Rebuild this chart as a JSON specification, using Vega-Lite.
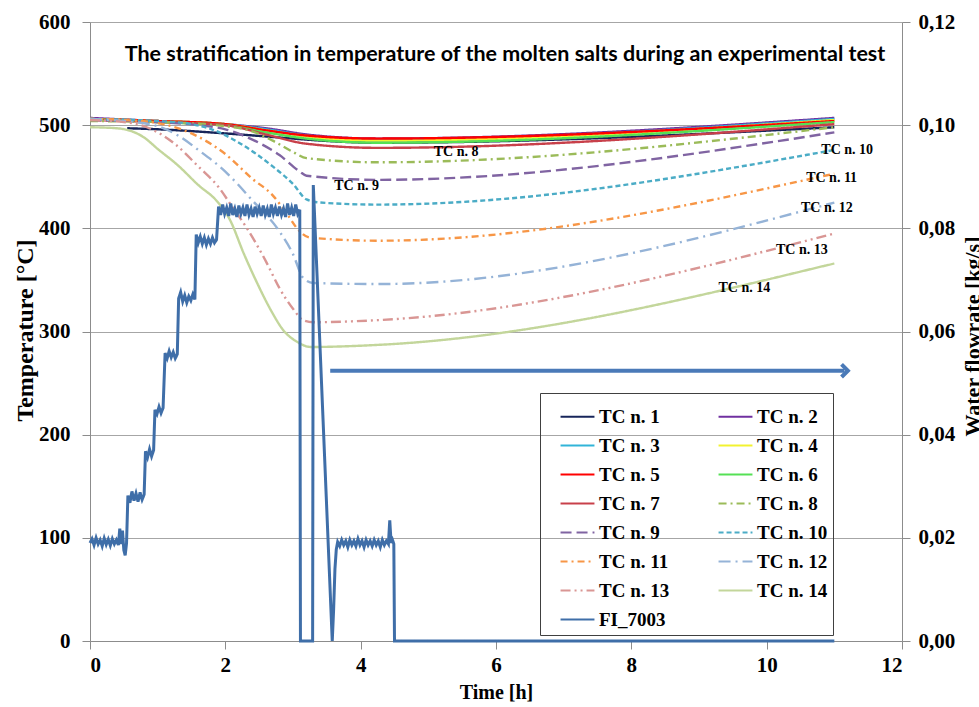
{
  "$schema": "https://vega.github.io/schema/vega-lite/v6.json",
  "width": 812,
  "height": 619,
  "autosize": "none",
  "padding": {"left": 90, "top": 22, "right": 77, "bottom": 66},
  "background": "white",
  "title": {"text": "The stratification in temperature of the molten salts during an experimental test", "font": "Lato", "fontSize": 21.5, "fontWeight": "bold", "color": "black", "anchor": "middle", "frame": "group", "offset": -54, "dx": 9},
  "datasets": {
    "tc": [
      {"s":"TC n. 1","t":0.55,"v":497},{"s":"TC n. 1","t":1.0,"v":496},{"s":"TC n. 1","t":2.0,"v":492},{"s":"TC n. 1","t":3.0,"v":487},{"s":"TC n. 1","t":3.2,"v":486},{"s":"TC n. 1","t":4.25,"v":483},{"s":"TC n. 1","t":11,"v":498},
      {"s":"TC n. 2","t":0,"v":507},{"s":"TC n. 2","t":1.0,"v":504},{"s":"TC n. 2","t":2.0,"v":501},{"s":"TC n. 2","t":2.6,"v":497},{"s":"TC n. 2","t":3.2,"v":491},{"s":"TC n. 2","t":4.25,"v":487},{"s":"TC n. 2","t":11,"v":507},
      {"s":"TC n. 3","t":0,"v":506},{"s":"TC n. 3","t":1.0,"v":504},{"s":"TC n. 3","t":2.0,"v":501},{"s":"TC n. 3","t":2.6,"v":496},{"s":"TC n. 3","t":3.2,"v":490},{"s":"TC n. 3","t":4.25,"v":486},{"s":"TC n. 3","t":11,"v":506},
      {"s":"TC n. 4","t":0,"v":506},{"s":"TC n. 4","t":1.0,"v":504},{"s":"TC n. 4","t":2.0,"v":501},{"s":"TC n. 4","t":2.6,"v":495},{"s":"TC n. 4","t":3.2,"v":489},{"s":"TC n. 4","t":4.25,"v":485},{"s":"TC n. 4","t":11,"v":505},
      {"s":"TC n. 5","t":0,"v":506},{"s":"TC n. 5","t":1.0,"v":504},{"s":"TC n. 5","t":2.0,"v":501},{"s":"TC n. 5","t":2.6,"v":495},{"s":"TC n. 5","t":3.2,"v":490},{"s":"TC n. 5","t":4.25,"v":487},{"s":"TC n. 5","t":11,"v":504},
      {"s":"TC n. 6","t":0,"v":506},{"s":"TC n. 6","t":1.0,"v":503},{"s":"TC n. 6","t":2.0,"v":500},{"s":"TC n. 6","t":2.6,"v":493},{"s":"TC n. 6","t":3.2,"v":487},{"s":"TC n. 6","t":4.25,"v":483},{"s":"TC n. 6","t":11,"v":503},
      {"s":"TC n. 7","t":0,"v":505},{"s":"TC n. 7","t":1.0,"v":503},{"s":"TC n. 7","t":2.0,"v":500},{"s":"TC n. 7","t":2.6,"v":491},{"s":"TC n. 7","t":3.2,"v":482},{"s":"TC n. 7","t":4.25,"v":478},{"s":"TC n. 7","t":11,"v":501},
      {"s":"TC n. 8","t":0,"v":504},{"s":"TC n. 8","t":1.0,"v":503},{"s":"TC n. 8","t":2.0,"v":499},{"s":"TC n. 8","t":2.4,"v":494},{"s":"TC n. 8","t":2.7,"v":485},{"s":"TC n. 8","t":3.0,"v":474},{"s":"TC n. 8","t":3.2,"v":468},{"s":"TC n. 8","t":4.25,"v":464},{"s":"TC n. 8","t":11,"v":498},
      {"s":"TC n. 9","t":0,"v":505},{"s":"TC n. 9","t":1.0,"v":503},{"s":"TC n. 9","t":1.6,"v":500},{"s":"TC n. 9","t":2.0,"v":496},{"s":"TC n. 9","t":2.4,"v":486},{"s":"TC n. 9","t":2.8,"v":471},{"s":"TC n. 9","t":3.1,"v":455},{"s":"TC n. 9","t":3.2,"v":451},{"s":"TC n. 9","t":4.25,"v":447},{"s":"TC n. 9","t":11,"v":493},
      {"s":"TC n. 10","t":0,"v":506},{"s":"TC n. 10","t":1.0,"v":504},{"s":"TC n. 10","t":1.5,"v":501},{"s":"TC n. 10","t":1.8,"v":496},{"s":"TC n. 10","t":2.2,"v":483},{"s":"TC n. 10","t":2.7,"v":460},{"s":"TC n. 10","t":3.0,"v":443},{"s":"TC n. 10","t":3.2,"v":428},{"s":"TC n. 10","t":3.4,"v":425},{"s":"TC n. 10","t":4.25,"v":423},{"s":"TC n. 10","t":11,"v":476},
      {"s":"TC n. 11","t":0,"v":506},{"s":"TC n. 11","t":0.5,"v":505},{"s":"TC n. 11","t":1.0,"v":502},{"s":"TC n. 11","t":1.5,"v":492},{"s":"TC n. 11","t":2.0,"v":472},{"s":"TC n. 11","t":2.4,"v":448},{"s":"TC n. 11","t":2.7,"v":432},{"s":"TC n. 11","t":2.9,"v":415},{"s":"TC n. 11","t":3.1,"v":397},{"s":"TC n. 11","t":3.25,"v":391},{"s":"TC n. 11","t":4.25,"v":388},{"s":"TC n. 11","t":11,"v":453},
      {"s":"TC n. 12","t":0,"v":506},{"s":"TC n. 12","t":0.5,"v":504},{"s":"TC n. 12","t":1.0,"v":499},{"s":"TC n. 12","t":1.3,"v":490},{"s":"TC n. 12","t":1.6,"v":476},{"s":"TC n. 12","t":2.0,"v":455},{"s":"TC n. 12","t":2.4,"v":427},{"s":"TC n. 12","t":2.8,"v":397},{"s":"TC n. 12","t":3.0,"v":375},{"s":"TC n. 12","t":3.15,"v":352},{"s":"TC n. 12","t":3.3,"v":347},{"s":"TC n. 12","t":4.25,"v":346},{"s":"TC n. 12","t":11,"v":425},
      {"s":"TC n. 13","t":0,"v":505},{"s":"TC n. 13","t":0.5,"v":503},{"s":"TC n. 13","t":0.75,"v":500},{"s":"TC n. 13","t":1.0,"v":493},{"s":"TC n. 13","t":1.25,"v":482},{"s":"TC n. 13","t":1.6,"v":460},{"s":"TC n. 13","t":1.9,"v":440},{"s":"TC n. 13","t":2.1,"v":421},{"s":"TC n. 13","t":2.3,"v":402},{"s":"TC n. 13","t":2.6,"v":368},{"s":"TC n. 13","t":2.8,"v":342},{"s":"TC n. 13","t":3.0,"v":322},{"s":"TC n. 13","t":3.15,"v":311},{"s":"TC n. 13","t":3.3,"v":309},{"s":"TC n. 13","t":4.25,"v":311},{"s":"TC n. 13","t":11,"v":395},
      {"s":"TC n. 14","t":0,"v":498},{"s":"TC n. 14","t":0.4,"v":497},{"s":"TC n. 14","t":0.8,"v":488},{"s":"TC n. 14","t":1.0,"v":477},{"s":"TC n. 14","t":1.3,"v":461},{"s":"TC n. 14","t":1.6,"v":442},{"s":"TC n. 14","t":1.88,"v":426},{"s":"TC n. 14","t":2.07,"v":408},{"s":"TC n. 14","t":2.27,"v":376},{"s":"TC n. 14","t":2.47,"v":347},{"s":"TC n. 14","t":2.67,"v":321},{"s":"TC n. 14","t":2.86,"v":301},{"s":"TC n. 14","t":3.06,"v":290},{"s":"TC n. 14","t":3.26,"v":285},{"s":"TC n. 14","t":4.25,"v":287},{"s":"TC n. 14","t":11,"v":366}
    ],
    "fi": [
      {"s":"FI_7003","t":0.00,"f":0.0190},{"s":"FI_7003","t":0.03,"f":0.0198},{"s":"FI_7003","t":0.06,"f":0.0186},{"s":"FI_7003","t":0.09,"f":0.0200},{"s":"FI_7003","t":0.12,"f":0.0188},{"s":"FI_7003","t":0.15,"f":0.0196},{"s":"FI_7003","t":0.18,"f":0.0184},{"s":"FI_7003","t":0.21,"f":0.0199},{"s":"FI_7003","t":0.24,"f":0.0187},{"s":"FI_7003","t":0.27,"f":0.0197},{"s":"FI_7003","t":0.30,"f":0.0185},{"s":"FI_7003","t":0.33,"f":0.0198},{"s":"FI_7003","t":0.36,"f":0.0188},{"s":"FI_7003","t":0.39,"f":0.0196},{"s":"FI_7003","t":0.42,"f":0.0186},{"s":"FI_7003","t":0.44,"f":0.0218},{"s":"FI_7003","t":0.46,"f":0.0188},{"s":"FI_7003","t":0.48,"f":0.0214},{"s":"FI_7003","t":0.50,"f":0.0176},{"s":"FI_7003","t":0.52,"f":0.0166},{"s":"FI_7003","t":0.54,"f":0.0190},
      {"s":"FI_7003","t":0.56,"f":0.0282},{"s":"FI_7003","t":0.59,"f":0.0268},{"s":"FI_7003","t":0.62,"f":0.0290},{"s":"FI_7003","t":0.65,"f":0.0272},{"s":"FI_7003","t":0.68,"f":0.0286},{"s":"FI_7003","t":0.71,"f":0.0270},{"s":"FI_7003","t":0.74,"f":0.0288},{"s":"FI_7003","t":0.77,"f":0.0274},{"s":"FI_7003","t":0.80,"f":0.0284},
      {"s":"FI_7003","t":0.82,"f":0.0368},{"s":"FI_7003","t":0.85,"f":0.0356},{"s":"FI_7003","t":0.88,"f":0.0372},{"s":"FI_7003","t":0.91,"f":0.0358},{"s":"FI_7003","t":0.94,"f":0.0370},
      {"s":"FI_7003","t":0.96,"f":0.0448},{"s":"FI_7003","t":0.99,"f":0.0440},{"s":"FI_7003","t":1.02,"f":0.0454},{"s":"FI_7003","t":1.05,"f":0.0442},{"s":"FI_7003","t":1.08,"f":0.0452},
      {"s":"FI_7003","t":1.11,"f":0.0558},{"s":"FI_7003","t":1.14,"f":0.0548},{"s":"FI_7003","t":1.17,"f":0.0562},{"s":"FI_7003","t":1.20,"f":0.0550},{"s":"FI_7003","t":1.23,"f":0.0560},{"s":"FI_7003","t":1.26,"f":0.0548},{"s":"FI_7003","t":1.29,"f":0.0556},
      {"s":"FI_7003","t":1.31,"f":0.0664},{"s":"FI_7003","t":1.34,"f":0.0676},{"s":"FI_7003","t":1.37,"f":0.0658},{"s":"FI_7003","t":1.40,"f":0.0670},{"s":"FI_7003","t":1.43,"f":0.0656},{"s":"FI_7003","t":1.46,"f":0.0668},{"s":"FI_7003","t":1.49,"f":0.0660},{"s":"FI_7003","t":1.52,"f":0.0672},{"s":"FI_7003","t":1.55,"f":0.0662},
      {"s":"FI_7003","t":1.57,"f":0.0788},{"s":"FI_7003","t":1.60,"f":0.0772},{"s":"FI_7003","t":1.63,"f":0.0784},{"s":"FI_7003","t":1.66,"f":0.0770},{"s":"FI_7003","t":1.69,"f":0.0782},{"s":"FI_7003","t":1.72,"f":0.0768},{"s":"FI_7003","t":1.75,"f":0.0780},{"s":"FI_7003","t":1.78,"f":0.0770},{"s":"FI_7003","t":1.81,"f":0.0782},{"s":"FI_7003","t":1.84,"f":0.0772},{"s":"FI_7003","t":1.87,"f":0.0778},
      {"s":"FI_7003","t":1.90,"f":0.0842},{"s":"FI_7003","t":1.93,"f":0.0826},{"s":"FI_7003","t":1.96,"f":0.0846},{"s":"FI_7003","t":1.99,"f":0.0828},{"s":"FI_7003","t":2.02,"f":0.0840},{"s":"FI_7003","t":2.05,"f":0.0824},{"s":"FI_7003","t":2.08,"f":0.0848},{"s":"FI_7003","t":2.11,"f":0.0826},{"s":"FI_7003","t":2.14,"f":0.0838},{"s":"FI_7003","t":2.17,"f":0.0822},{"s":"FI_7003","t":2.20,"f":0.0844},{"s":"FI_7003","t":2.23,"f":0.0828},{"s":"FI_7003","t":2.26,"f":0.0840},{"s":"FI_7003","t":2.29,"f":0.0824},{"s":"FI_7003","t":2.32,"f":0.0846},{"s":"FI_7003","t":2.35,"f":0.0826},{"s":"FI_7003","t":2.38,"f":0.0838},{"s":"FI_7003","t":2.41,"f":0.0822},{"s":"FI_7003","t":2.44,"f":0.0842},{"s":"FI_7003","t":2.47,"f":0.0828},{"s":"FI_7003","t":2.50,"f":0.0840},{"s":"FI_7003","t":2.53,"f":0.0824},{"s":"FI_7003","t":2.56,"f":0.0844},{"s":"FI_7003","t":2.59,"f":0.0826},{"s":"FI_7003","t":2.62,"f":0.0838},{"s":"FI_7003","t":2.65,"f":0.0822},{"s":"FI_7003","t":2.68,"f":0.0846},{"s":"FI_7003","t":2.71,"f":0.0828},{"s":"FI_7003","t":2.74,"f":0.0840},{"s":"FI_7003","t":2.77,"f":0.0824},{"s":"FI_7003","t":2.80,"f":0.0842},{"s":"FI_7003","t":2.83,"f":0.0826},{"s":"FI_7003","t":2.86,"f":0.0838},{"s":"FI_7003","t":2.89,"f":0.0822},{"s":"FI_7003","t":2.92,"f":0.0848},{"s":"FI_7003","t":2.95,"f":0.0826},{"s":"FI_7003","t":2.98,"f":0.0840},{"s":"FI_7003","t":3.01,"f":0.0824},{"s":"FI_7003","t":3.04,"f":0.0846},{"s":"FI_7003","t":3.07,"f":0.0828},{"s":"FI_7003","t":3.10,"f":0.0836},
      {"s":"FI_7003","t":3.11,"f":0.0},{"s":"FI_7003","t":3.29,"f":0.0},{"s":"FI_7003","t":3.30,"f":0.0884},{"s":"FI_7003","t":3.58,"f":0.0},{"s":"FI_7003","t":3.60,"f":0.0060},{"s":"FI_7003","t":3.62,"f":0.0140},{"s":"FI_7003","t":3.64,"f":0.0178},
      {"s":"FI_7003","t":3.66,"f":0.0192},{"s":"FI_7003","t":3.69,"f":0.0184},{"s":"FI_7003","t":3.72,"f":0.0196},{"s":"FI_7003","t":3.75,"f":0.0186},{"s":"FI_7003","t":3.78,"f":0.0194},{"s":"FI_7003","t":3.81,"f":0.0182},{"s":"FI_7003","t":3.84,"f":0.0196},{"s":"FI_7003","t":3.87,"f":0.0186},{"s":"FI_7003","t":3.90,"f":0.0194},{"s":"FI_7003","t":3.93,"f":0.0184},{"s":"FI_7003","t":3.96,"f":0.0198},{"s":"FI_7003","t":3.99,"f":0.0186},{"s":"FI_7003","t":4.02,"f":0.0194},{"s":"FI_7003","t":4.05,"f":0.0182},{"s":"FI_7003","t":4.08,"f":0.0196},{"s":"FI_7003","t":4.11,"f":0.0186},{"s":"FI_7003","t":4.14,"f":0.0194},{"s":"FI_7003","t":4.17,"f":0.0184},{"s":"FI_7003","t":4.20,"f":0.0196},{"s":"FI_7003","t":4.23,"f":0.0186},{"s":"FI_7003","t":4.26,"f":0.0194},{"s":"FI_7003","t":4.29,"f":0.0182},{"s":"FI_7003","t":4.32,"f":0.0196},{"s":"FI_7003","t":4.35,"f":0.0186},{"s":"FI_7003","t":4.38,"f":0.0194},{"s":"FI_7003","t":4.41,"f":0.0188},{"s":"FI_7003","t":4.43,"f":0.0234},{"s":"FI_7003","t":4.45,"f":0.0190},{"s":"FI_7003","t":4.47,"f":0.0196},{"s":"FI_7003","t":4.49,"f":0.0188},
      {"s":"FI_7003","t":4.50,"f":0.0},{"s":"FI_7003","t":11.0,"f":0.0}
    ],
    "labels": [
      {"label":"TC n. 8","t":5.41,"v":474},
      {"label":"TC n. 9","t":3.94,"v":441},
      {"label":"TC n. 10","t":11.19,"v":476},
      {"label":"TC n. 11","t":10.96,"v":449},
      {"label":"TC n. 12","t":10.89,"v":420},
      {"label":"TC n. 13","t":10.52,"v":379},
      {"label":"TC n. 14","t":9.67,"v":342}
    ],
    "arrow": [{"t":3.55,"t2":11.15,"v":262,"tip":11.2}]
  },
  "resolve": {"scale": {"y": "independent"}},
  "layer": [
    {
      "layer": [
        {
          "data": {"name": "tc"},
          "mark": {"type": "line", "interpolate": "monotone", "strokeWidth": 2.4},
          "encoding": {
            "x": {"field": "t", "type": "quantitative", "scale": {"domain": [0, 12]},
                  "axis": {"title": "Time [h]", "values": [0,2,4,6,8,10,12], "format": "d", "grid": false, "tickSize": 8, "labelPadding": 5, "titlePadding": 7}},
            "y": {"field": "v", "type": "quantitative", "scale": {"domain": [0, 600]},
                  "axis": {"title": "Temperature [°C]", "values": [0,100,200,300,400,500,600], "grid": true, "tickSize": 8, "labelPadding": 12, "titleX": -65, "titleY": 308, "titleBaseline": "middle", "titleAlign": "center", "titleAngle": 270, "titleFontSize": 24}},
            "color": {"field": "s", "type": "nominal",
                      "scale": {"domain": ["TC n. 1","TC n. 3","TC n. 5","TC n. 7","TC n. 9","TC n. 11","TC n. 13","FI_7003","TC n. 2","TC n. 4","TC n. 6","TC n. 8","TC n. 10","TC n. 12","TC n. 14"],
                                "range": ["#17255a","#31b4d8","#ff0000","#c8404a","#8064a2","#f79646","#d99694","#3f6ea8","#7030a0","#f2f230","#55e055","#9bbb59","#4bacc6","#95b3d7","#c3d69b"]}},
            "strokeDash": {"field": "s", "type": "nominal",
                      "scale": {"domain": ["TC n. 1","TC n. 3","TC n. 5","TC n. 7","TC n. 9","TC n. 11","TC n. 13","FI_7003","TC n. 2","TC n. 4","TC n. 6","TC n. 8","TC n. 10","TC n. 12","TC n. 14"],
                                "range": [[1,0],[1,0],[1,0],[1,0],[11,5],[7,4,2,4],[10,4,2,4,2,4],[1,0],[1,0],[1,0],[1,0],[8,4,2,4],[5,3],[12,5,2,5],[1,0]]}}
          }
        },
        {
          "data": {"name": "labels"},
          "mark": {"type": "text", "font": "Liberation Serif", "fontWeight": "bold", "fontSize": 14, "color": "black"},
          "encoding": {
            "x": {"field": "t", "type": "quantitative"},
            "y": {"field": "v", "type": "quantitative"},
            "text": {"field": "label"}
          }
        },
        {
          "data": {"name": "arrow"},
          "mark": {"type": "rule", "color": "#4a7ab8", "strokeWidth": 4},
          "encoding": {
            "x": {"field": "t", "type": "quantitative"},
            "x2": {"field": "t2"},
            "y": {"field": "v", "type": "quantitative"}
          }
        },
        {
          "data": {"name": "arrow"},
          "mark": {"type": "point", "shape": "M-1,-1L0,0L-1,1", "filled": false, "stroke": "#4a7ab8", "strokeWidth": 4, "size": 160, "opacity": 1},
          "encoding": {
            "x": {"field": "tip", "type": "quantitative"},
            "y": {"field": "v", "type": "quantitative"}
          }
        }
      ]
    },
    {
      "data": {"name": "fi"},
      "mark": {"type": "line", "strokeWidth": 3},
      "encoding": {
        "x": {"field": "t", "type": "quantitative"},
        "y": {"field": "f", "type": "quantitative", "scale": {"domain": [0, 0.12]},
              "axis": {"orient": "right", "title": "Water  flowrate  [kg/s]", "values": [0,0.02,0.04,0.06,0.08,0.1,0.12], "labelExpr": "replace(format(datum.value, '.2f'), '.', ',')", "grid": false, "tickSize": 8, "labelPadding": 8, "titleX": 70, "titleY": 314, "titleBaseline": "middle", "titleAlign": "center", "titleAngle": 270, "titleFontSize": 22}},
        "color": {"field": "s", "type": "nominal",
                  "scale": {"domain": ["TC n. 1","TC n. 3","TC n. 5","TC n. 7","TC n. 9","TC n. 11","TC n. 13","FI_7003","TC n. 2","TC n. 4","TC n. 6","TC n. 8","TC n. 10","TC n. 12","TC n. 14"],
                            "range": ["#17255a","#31b4d8","#ff0000","#c8404a","#8064a2","#f79646","#d99694","#3f6ea8","#7030a0","#f2f230","#55e055","#9bbb59","#4bacc6","#95b3d7","#c3d69b"]}},
        "strokeDash": {"field": "s", "type": "nominal",
                  "scale": {"domain": ["TC n. 1","TC n. 3","TC n. 5","TC n. 7","TC n. 9","TC n. 11","TC n. 13","FI_7003","TC n. 2","TC n. 4","TC n. 6","TC n. 8","TC n. 10","TC n. 12","TC n. 14"],
                            "range": [[1,0],[1,0],[1,0],[1,0],[11,5],[7,4,2,4],[10,4,2,4,2,4],[1,0],[1,0],[1,0],[1,0],[8,4,2,4],[5,3],[12,5,2,5],[1,0]]}}
      }
    }
  ],
  "config": {
    "view": {"stroke": null},
    "axis": {"labelFont": "Liberation Serif", "labelFontWeight": "bold", "labelFontSize": 21, "labelColor": "black",
             "titleFont": "Liberation Serif", "titleFontWeight": "bold", "titleFontSize": 20, "titleColor": "black",
             "domainColor": "#8c8c8c", "tickColor": "#8c8c8c", "gridColor": "#a6a6a6", "gridWidth": 1},
    "legend": {"orient": "none", "legendX": 450, "legendY": 371, "columns": 2, "title": null,
               "symbolType": "stroke", "symbolSize": 1150, "symbolStrokeWidth": 2.2, "symbolOffset": 14, "labelFont": "Liberation Serif", "labelFontWeight": "bold",
               "labelFontSize": 19, "labelColor": "black", "labelOffset": 3, "labelLimit": 200,
               "strokeColor": "#404040", "padding": 5, "rowPadding": 0, "columnPadding": 33, "gridAlign": "all"}
  }
}
